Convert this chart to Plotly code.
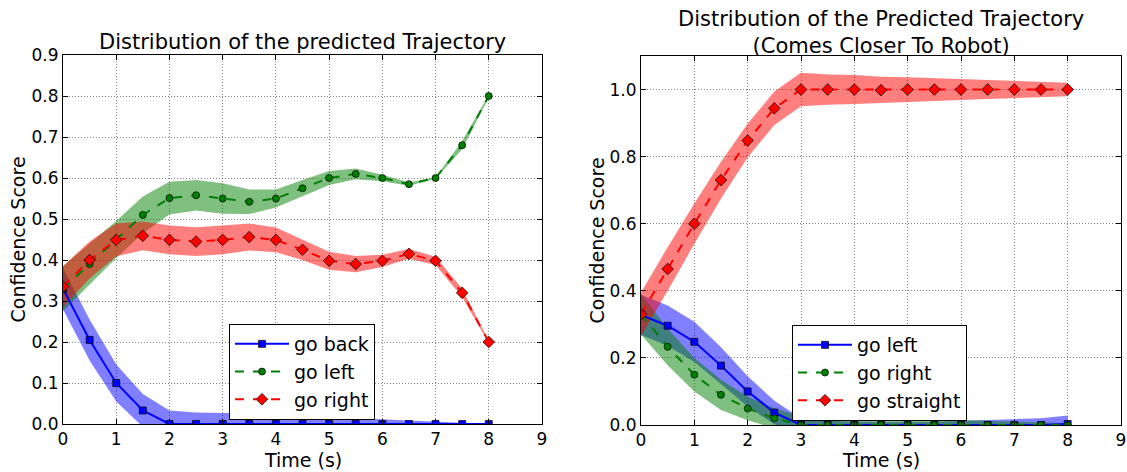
import plotly.graph_objects as go

# ---------------- data ----------------
t = [0, 0.5, 1, 1.5, 2, 2.5, 3, 3.5, 4, 4.5, 5, 5.5, 6, 6.5, 7, 7.5, 8]

# left chart
l_back = [0.33, 0.205, 0.10, 0.033, 0.0, 0.0, 0.0, 0.0, 0.0, 0.0, 0.0, 0.0, 0.0, 0.0, 0.0, 0.0, 0.0]
l_back_sd = [0.05, 0.05, 0.045, 0.04, 0.033, 0.028, 0.027, 0.027, 0.025, 0.02, 0.017, 0.014, 0.011, 0.008, 0.005, 0.003, 0.0]
l_left = [0.33, 0.39, 0.45, 0.51, 0.551, 0.558, 0.55, 0.542, 0.55, 0.575, 0.60, 0.61, 0.60, 0.585, 0.60, 0.68, 0.80]
l_left_sd = [0.055, 0.05, 0.045, 0.045, 0.04, 0.037, 0.037, 0.03, 0.022, 0.02, 0.017, 0.013, 0.008, 0.004, 0.002, 0.01, 0.003]
l_right = [0.335, 0.40, 0.449, 0.459, 0.449, 0.445, 0.449, 0.456, 0.449, 0.425, 0.398, 0.39, 0.398, 0.415, 0.398, 0.32, 0.20]
l_right_sd = [0.05, 0.045, 0.04, 0.035, 0.035, 0.035, 0.035, 0.033, 0.03, 0.025, 0.022, 0.02, 0.015, 0.012, 0.01, 0.01, 0.003]

# right chart
r_left = [0.328, 0.296, 0.248, 0.177, 0.10, 0.037, 0.0, 0.0, 0.0, 0.0, 0.0, 0.0, 0.0, 0.0, 0.0, 0.0, 0.003]
r_left_sd = [0.06, 0.06, 0.06, 0.055, 0.045, 0.035, 0.02, 0.013, 0.01, 0.008, 0.008, 0.01, 0.012, 0.015, 0.017, 0.02, 0.025]
r_right = [0.33, 0.233, 0.15, 0.09, 0.049, 0.02, 0.0, 0.0, 0.0, 0.0, 0.0, 0.0, 0.0, 0.0, 0.0, 0.0, 0.0]
r_right_sd = [0.06, 0.055, 0.05, 0.045, 0.035, 0.03, 0.025, 0.022, 0.022, 0.022, 0.02, 0.018, 0.015, 0.012, 0.01, 0.007, 0.005]
r_straight = [0.33, 0.465, 0.60, 0.73, 0.848, 0.944, 1.0, 1.0, 1.0, 0.998, 1.0, 1.0, 1.0, 1.0, 1.0, 1.0, 1.0]
r_straight_sd = [0.065, 0.065, 0.06, 0.055, 0.05, 0.05, 0.05, 0.045, 0.043, 0.04, 0.037, 0.034, 0.031, 0.028, 0.025, 0.022, 0.02]

left_titles = ["go back", "go left", "go right"]
right_titles = ["go left", "go right", "go straight"]

BLUE = "#0000ff"
GREEN = "#008000"
RED = "#ff0000"
FILLS = {BLUE: "rgba(0,0,255,0.5)", GREEN: "rgba(0,128,0,0.5)", RED: "rgba(255,0,0,0.5)"}

FONT = "DejaVu Sans"

fig = go.Figure()


def add_band(y, sd, color, xa, ya):
    up = [a + b for a, b in zip(y, sd)]
    lo = [a - b for a, b in zip(y, sd)]
    fig.add_trace(go.Scatter(x=t + t[::-1], y=up + lo[::-1], fill="toself",
                             fillcolor=FILLS[color], line=dict(width=0),
                             mode="lines", hoverinfo="skip", showlegend=False,
                             xaxis=xa, yaxis=ya))


def add_line(y, color, dash, symbol, size, name, xa, ya, legend):
    fig.add_trace(go.Scatter(x=t, y=y, mode="lines+markers", name=name,
                             line=dict(color=color, width=2, dash=dash),
                             marker=dict(symbol=symbol, size=size, color=color,
                                         line=dict(color="black", width=0.7)),
                             xaxis=xa, yaxis=ya, legend=legend))


# left chart
add_band(l_back, l_back_sd, BLUE, "x", "y")
add_band(l_left, l_left_sd, GREEN, "x", "y")
add_band(l_right, l_right_sd, RED, "x", "y")
add_line(l_back, BLUE, "solid", "square", 7, left_titles[0], "x", "y", "legend")
add_line(l_left, GREEN, "dash", "circle", 7, left_titles[1], "x", "y", "legend")
add_line(l_right, RED, "dash", "diamond", 9, left_titles[2], "x", "y", "legend")

# right chart
add_band(r_left, r_left_sd, BLUE, "x2", "y2")
add_band(r_right, r_right_sd, GREEN, "x2", "y2")
add_band(r_straight, r_straight_sd, RED, "x2", "y2")
add_line(r_left, BLUE, "solid", "square", 7, right_titles[0], "x2", "y2", "legend2")
add_line(r_right, GREEN, "dash", "circle", 7, right_titles[1], "x2", "y2", "legend2")
add_line(r_straight, RED, "dash", "diamond", 9, right_titles[2], "x2", "y2", "legend2")

W, H = 1127, 472
axis_common = dict(showline=True, linecolor="black", linewidth=1, mirror="ticks",
                   ticks="inside", ticklen=5, tickcolor="black", automargin=False,
                   showgrid=True, gridcolor="rgba(0,0,0,0.5)", griddash="1px,2px", gridwidth=1,
                   zeroline=False, tickfont=dict(family=FONT, size=17, color="black"))

lx0, lx1 = 63 / W, 542 / W
rx0, rx1 = 641 / W, 1121 / W
ly0, ly1 = 1 - 424 / H, 1 - 55 / H
ry0, ry1 = 1 - 425 / H, 1 - 56 / H

legend_common = dict(xanchor="left", yanchor="top", bgcolor="white", bordercolor="black",
                     borderwidth=1, font=dict(family=FONT, size=19, color="black"),
                     itemwidth=54, tracegroupgap=0)

ann_font = dict(family=FONT, size=19, color="black")
title_font = dict(family=FONT, size=21, color="black")

fig.update_layout(
    width=W, height=H, margin=dict(l=0, r=0, t=0, b=0, autoexpand=False),
    paper_bgcolor="white", plot_bgcolor="white",
    font=dict(family=FONT, color="black"),
    xaxis=dict(domain=[lx0, lx1], range=[0, 9], dtick=1, anchor="y", **axis_common),
    yaxis=dict(domain=[ly0, ly1], range=[0, 0.9], dtick=0.1, tickformat=".1f", anchor="x", **axis_common),
    xaxis2=dict(domain=[rx0, rx1], range=[0, 9], dtick=1, anchor="y2", **axis_common),
    yaxis2=dict(domain=[ry0, ry1], range=[0, 1.1], dtick=0.2, tickformat=".1f", anchor="x2", **axis_common),
    legend=dict(x=229 / W, y=1 - 324 / H, **legend_common),
    legend2=dict(x=792 / W, y=1 - 325 / H, **legend_common),
    showlegend=True,
    annotations=[
        dict(text="Distribution of the predicted Trajectory", x=(lx0 + lx1) / 2, y=1 - 42 / H,
             xref="paper", yref="paper", showarrow=False, xanchor="center", yanchor="middle",
             font=title_font),
        dict(text="Distribution of the Predicted Trajectory<br>(Comes Closer To Robot)",
             x=(rx0 + rx1) / 2, y=1 - 32 / H, xref="paper", yref="paper", showarrow=False,
             xanchor="center", yanchor="middle", font=title_font),
        dict(text="Time (s)", x=(lx0 + lx1) / 2, y=1 - 460 / H, xref="paper", yref="paper",
             showarrow=False, xanchor="center", yanchor="middle", font=ann_font),
        dict(text="Time (s)", x=(rx0 + rx1) / 2, y=1 - 460 / H, xref="paper", yref="paper",
             showarrow=False, xanchor="center", yanchor="middle", font=ann_font),
        dict(text="Confidence Score", x=17 / W, y=(ly0 + ly1) / 2, xref="paper", yref="paper",
             showarrow=False, textangle=-90, xanchor="center", yanchor="middle", font=ann_font),
        dict(text="Confidence Score", x=596 / W, y=(ry0 + ry1) / 2, xref="paper", yref="paper",
             showarrow=False, textangle=-90, xanchor="center", yanchor="middle", font=ann_font),
    ],
)

fig.write_html("out.html", config={"displayModeBar": False},
               post_script="document.body.style.margin='0';document.body.style.overflow='hidden';")
